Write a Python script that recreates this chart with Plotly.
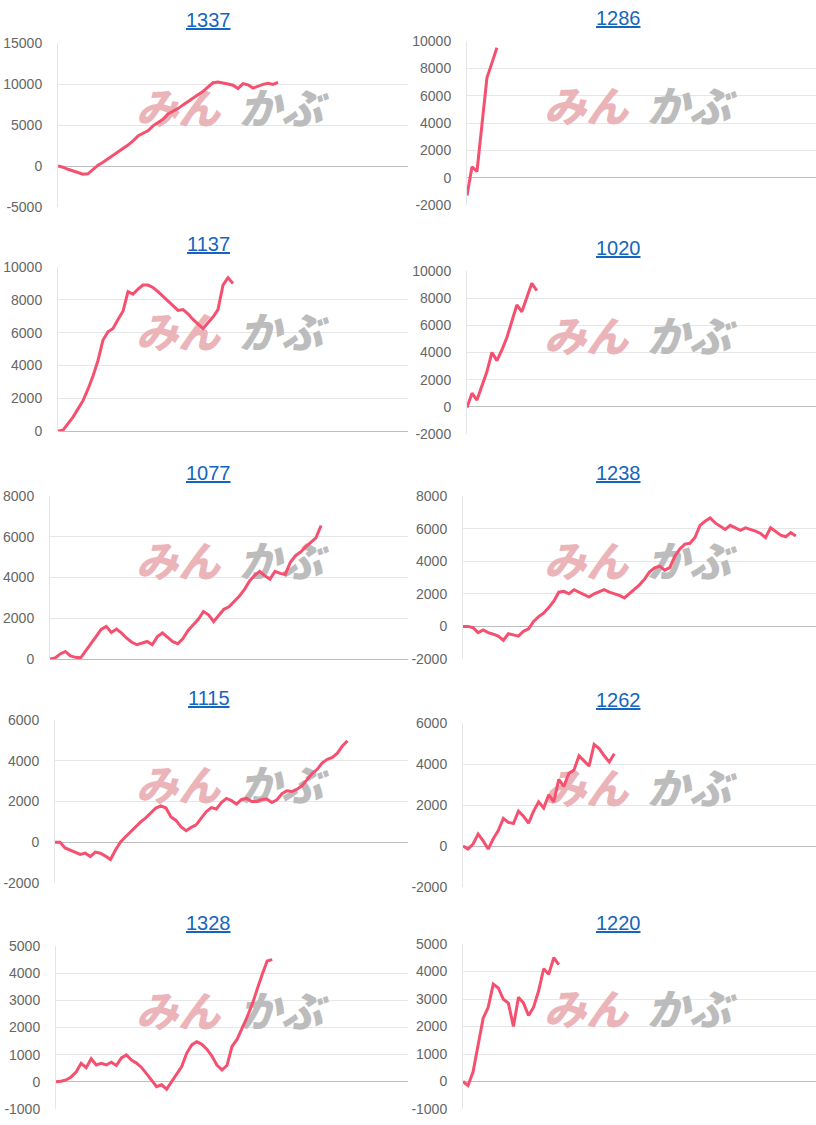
import plotly.graph_objects as go

# ---------------- data ----------------
codes = ["1337", "1286", "1137", "1020", "1077", "1238", "1115", "1262", "1328", "1220"]

v1337 = [0, -150, -400, -600, -800, -1000, -950, -400, 100, 450, 850, 1250, 1650, 2100, 2550,
         3050, 3650, 4000, 4300, 4900, 5350, 5700, 6350, 6650, 7000, 7450, 7900, 8350, 8700,
         9100, 9600, 10150, 10250, 10150, 10000, 9850, 9450, 10050, 9900, 9500, 9750, 9950,
         10100, 9950, 10200]
v1286 = [-1300, 800, 450, 3700, 7300, 8400, 9500]
v1137 = [0, 50, 450, 850, 1350, 1850, 2550, 3350, 4300, 5550, 6050, 6250, 6800, 7300, 8500,
         8350, 8650, 8900, 8900, 8750, 8500, 8200, 7900, 7650, 7350, 7400, 7150, 6800, 6500,
         6250, 6600, 6950, 7400, 8900, 9350, 9000]
v1020 = [-50, 1000, 500, 1500, 2600, 4000, 3400, 4200, 5100, 6300, 7500, 7000, 8000, 9100, 8550]
v1077 = [0, 50, 250, 370, 150, 80, 60, 380, 750, 1100, 1450, 1600, 1300, 1470, 1270, 1020, 820,
         700, 780, 860, 700, 1100, 1280, 1050, 850, 750, 1000, 1400, 1700, 1950, 2330, 2170,
         1840, 2170, 2440, 2560, 2800, 3080, 3400, 3820, 4100, 4300, 4080, 3920, 4300, 4200,
         4150, 4750, 5070, 5250, 5500, 5720, 5950, 6550]
v1238 = [0, 0, -80, -380, -220, -380, -480, -600, -850, -450, -520, -600, -300, -150, 300, 600,
         820, 1150, 1550, 2100, 2150, 2000, 2250, 2100, 2000, 1800, 2000, 2150, 2250, 2100, 2000,
         1900, 1750, 2000, 2250, 2550, 2900, 3350, 3600, 3700, 3450, 3600, 4300, 4750, 5050,
         5100, 5450, 6200, 6450, 6650, 6350, 6150, 5950, 6200, 6050, 5900, 6050, 5950, 5850,
         5700, 5450, 6050, 5850, 5600, 5500, 5750, 5550]
v1115 = [0, 0, -280, -400, -520, -600, -530, -700, -480, -540, -680, -850, -380, 20, 270, 530,
         790, 1000, 1200, 1460, 1680, 1790, 1680, 1240, 1070, 750, 570, 730, 850, 1180, 1500,
         1700, 1630, 1950, 2150, 2040, 1870, 2100, 2150, 2000, 2000, 2100, 2120, 1950, 2080,
         2380, 2530, 2490, 2600, 2780, 3050, 3370, 3580, 3900, 4070, 4160, 4370, 4730, 4980]
v1262 = [0, -150, 100, 580, 250, -150, 350, 750, 1350, 1150, 1100, 1700, 1450, 1120, 1700, 2150,
         1850, 2500, 2150, 3250, 2900, 3550, 3700, 4400, 4150, 3900, 4950, 4750, 4400, 4100, 4500]
v1328 = [0, 20, 70, 180, 360, 680, 520, 850, 620, 680, 620, 720, 600, 880, 990, 800, 690, 530,
         300, 50, -180, -110, -270, 10, 280, 560, 1060, 1360, 1480, 1380, 1200, 950, 620, 440,
         600, 1300, 1560, 1950, 2380, 2850, 3420, 3950, 4450, 4500]
v1220 = [0, -150, 350, 1280, 2300, 2700, 3540, 3400, 2990, 2850, 2000, 3060, 2850, 2400, 2700,
         3300, 4100, 3900, 4500, 4250]

series = [v1337, v1286, v1137, v1020, v1077, v1238, v1115, v1262, v1328, v1220]

y_min = [-5000, -2000, 0, -2000, 0, -2000, -2000, -2000, -1000, -1000]
y_max = [15000, 10000, 10000, 10000, 8000, 8000, 6000, 6000, 5000, 5000]
y_step = [5000, 2000, 2000, 2000, 2000, 2000, 2000, 2000, 1000, 1000]
X_SLOTS = 70  # number of periods on the shared x axis

# ---------------- layout (pixels) ----------------
W, H = 816, 1125
plot_left = [58, 467, 58, 467, 50, 463, 55, 463, 56, 463]
plot_right = [408, 816] * 5
plot_top = [43, 41, 267, 271, 496, 496, 720, 723, 946, 944]
plot_bottom = [207, 205, 431, 434, 659, 659, 883, 887, 1109, 1109]
title_cx = [209, 618]
title_cy = [20, 18, 244, 248, 473, 473, 698, 700, 923, 923]
wm_mi_cx = [178, 586]
wm_kabu_cx = [281, 689]

LINE_COLOR = "#f5506f"
TITLE_COLOR = "#1565c0"
TICK_COLOR = "#666666"
GRID_COLOR = "#e6e6e6"
ZERO_COLOR = "#bdbdbd"

fig = go.Figure()
annotations = []

for i, (code, vals) in enumerate(zip(codes, series)):
    n = i + 1
    xa = "x" if n == 1 else f"x{n}"
    ya = "y" if n == 1 else f"y{n}"
    col = i % 2
    l, r, t, b = plot_left[i], plot_right[i], plot_top[i], plot_bottom[i]

    # watermark (drawn first so the line sits on top)
    wy_px = t + 0.43 * (b - t)
    wy = y_max[i] - (wy_px - t) / (b - t) * (y_max[i] - y_min[i])
    wx1 = (wm_mi_cx[col] - l) / (r - l) * X_SLOTS
    wx2 = (wm_kabu_cx[col] - l) / (r - l) * X_SLOTS
    fig.add_trace(go.Scatter(
        x=[wx1], y=[wy], xaxis=xa, yaxis=ya, mode="text", text=["みん"],
        textfont=dict(family="Noto Sans CJK JP", size=42, color="#ebb4b9",
                      weight=900, style="italic"),
        hoverinfo="skip", showlegend=False, cliponaxis=False))
    fig.add_trace(go.Scatter(
        x=[wx2], y=[wy], xaxis=xa, yaxis=ya, mode="text", text=["かぶ"],
        textfont=dict(family="Noto Sans CJK JP", size=42, color="#bcbcbc",
                      weight=900, style="italic"),
        hoverinfo="skip", showlegend=False, cliponaxis=False))

    fig.add_trace(go.Scatter(
        x=list(range(len(vals))), y=vals, xaxis=xa, yaxis=ya, mode="lines",
        line=dict(color=LINE_COLOR, width=3), showlegend=False, name=code))

    tickvals = list(range(y_min[i], y_max[i] + 1, y_step[i]))
    ticktext = [str(v) for v in tickvals]

    fig.layout[("xaxis" if n == 1 else f"xaxis{n}")] = dict(
        domain=[l / W, r / W], range=[0, X_SLOTS], anchor=ya,
        showgrid=False, zeroline=False, showticklabels=False, ticks="",
        showline=False, fixedrange=True)
    fig.layout[("yaxis" if n == 1 else f"yaxis{n}")] = dict(
        domain=[1 - b / H, 1 - t / H], range=[y_min[i], y_max[i]], anchor=xa,
        tickmode="array", tickvals=tickvals, ticktext=ticktext,
        showgrid=True, gridcolor=GRID_COLOR, gridwidth=1,
        zeroline=True, zerolinecolor=ZERO_COLOR, zerolinewidth=1,
        showline=True, linecolor=GRID_COLOR, linewidth=1,
        ticks="", ticklabelstandoff=12, automargin=False,
        tickfont=dict(family="Liberation Sans, Arial, sans-serif", size=14, color=TICK_COLOR),
        fixedrange=True)

    annotations.append(dict(
        x=title_cx[col] / W, y=1 - title_cy[i] / H, xref="paper", yref="paper",
        text=f"<u>{code}</u>", showarrow=False, xanchor="center", yanchor="middle",
        font=dict(family="Liberation Sans, Arial, sans-serif", size=20, color=TITLE_COLOR)))

fig.update_layout(
    width=W, height=H, autosize=False,
    margin=dict(l=0, r=0, t=0, b=0, pad=0),
    paper_bgcolor="white", plot_bgcolor="white",
    annotations=annotations, showlegend=False)

pin_to_corner = (
    "document.documentElement.style.margin='0';"
    "document.body.style.margin='0';"
    "var d=document.getElementById('{plot_id}');"
    "d.style.position='fixed';d.style.left='0px';d.style.top='0px';"
)
fig.write_html("out.html", config={"displayModeBar": False, "responsive": False},
               post_script=pin_to_corner)
